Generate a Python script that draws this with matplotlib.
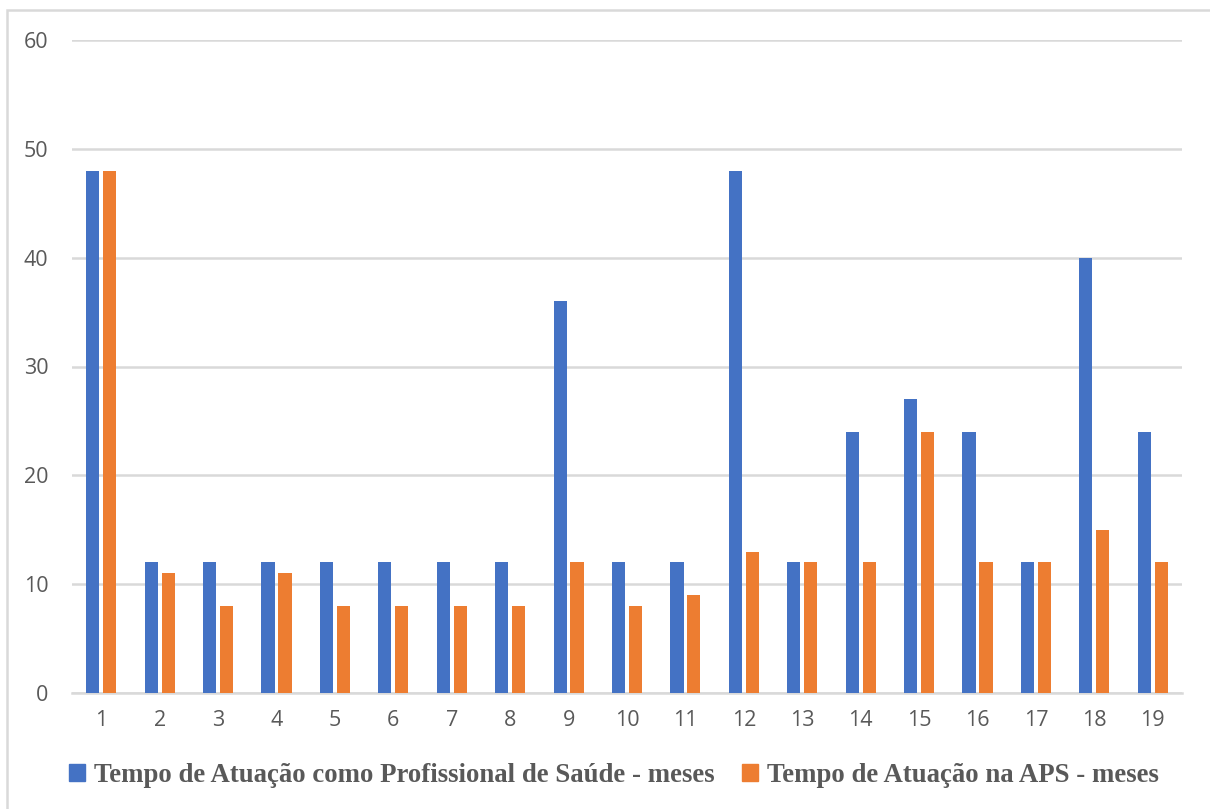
import matplotlib.pyplot as plt
import numpy as np
from matplotlib.patches import Patch, Rectangle

# tempo de atuacao (meses) por participante
participantes = [str(i) for i in range(1, 20)]
tempo_profissional = [48, 12, 12, 12, 12, 12, 12, 12, 36, 12, 12, 48, 12, 24, 27, 24, 12, 40, 24]
tempo_aps = [48, 11, 8, 11, 8, 8, 8, 8, 12, 8, 9, 13, 12, 12, 24, 12, 12, 15, 12]
legenda = ['Tempo de Atuação como Profissional de Saúde - meses',
           'Tempo de Atuação na APS - meses']

AZUL = '#4472C4'
LARANJA = '#ED7D31'
CINZA = '#595959'
GRADE = '#D9D9D9'

fig = plt.figure(figsize=(12.1, 8.09), dpi=100)
ax = fig.add_axes([72 / 1210, 1 - 693 / 809, 1110 / 1210, 653 / 809])

x = np.arange(len(participantes))
w = 0.225
off = 0.145
ax.bar(x - off, tempo_profissional, w, color=AZUL, zorder=3)
ax.bar(x + off, tempo_aps, w, color=LARANJA, zorder=3)

ax.set_xlim(-0.5, len(participantes) - 0.5)
ax.set_ylim(0, 60)
ax.set_yticks(range(0, 61, 10))
ax.set_xticks(x)
ax.set_xticklabels(participantes)
ax.yaxis.grid(True, color=GRADE, linewidth=1.8, zorder=0)
for s in ['top', 'right', 'left']:
    ax.spines[s].set_visible(False)
ax.spines['bottom'].set_color(GRADE)
ax.spines['bottom'].set_linewidth(1.8)
ax.tick_params(axis='both', length=0, labelsize=15.5, labelcolor=CINZA)
ax.tick_params(axis='y', pad=17)
ax.tick_params(axis='x', pad=12)
for lbl in ax.get_xticklabels() + ax.get_yticklabels():
    lbl.set_family('Open Sans')

# moldura do grafico
fig.patches.append(Rectangle((7 / 1210, -0.01), 1.02, 1 - 10 / 809 + 0.01,
                             transform=fig.transFigure, fill=False,
                             edgecolor=GRADE, linewidth=1.8))

handles = [Patch(color=AZUL), Patch(color=LARANJA)]
fig.legend(handles, legenda, loc='center', bbox_to_anchor=(614 / 1210, 1 - 775 / 809),
           ncol=2, frameon=False, handlelength=0.6, handleheight=0.6,
           handletextpad=0.35, columnspacing=1.0,
           prop={'family': 'Liberation Serif', 'weight': 'bold', 'size': 19.3},
           labelcolor=CINZA)

fig.savefig('out.png', dpi=100)
